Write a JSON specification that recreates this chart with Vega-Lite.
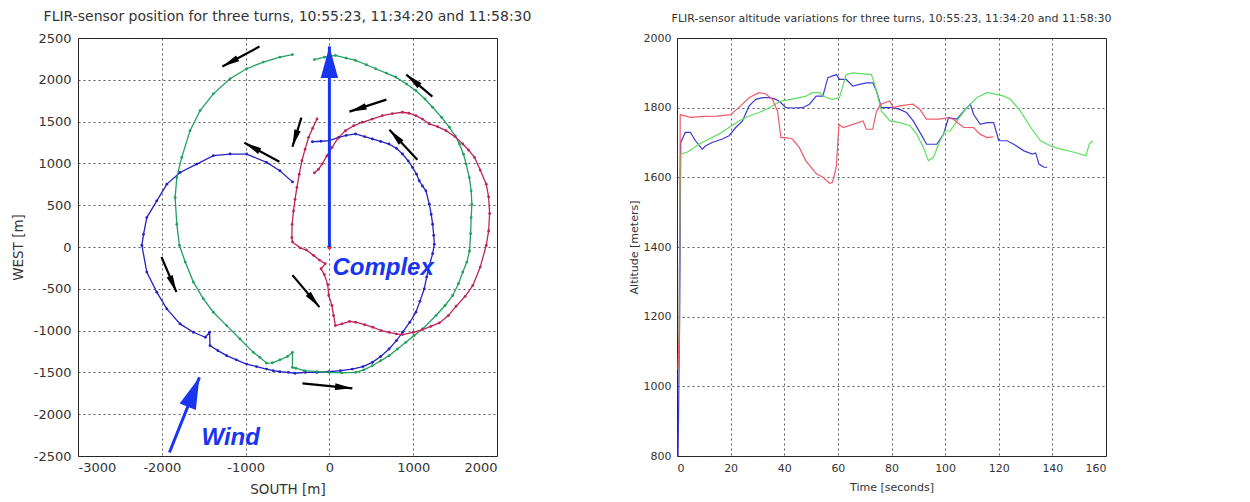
{
  "$schema": "https://vega.github.io/schema/vega-lite/v6.json",
  "background": "white",
  "padding": {"left": 10, "top": 9, "right": 5, "bottom": 5},
  "bounds": "flush",
  "spacing": 180,
  "resolve": {"scale": {"color": "independent"}},
  "config": {
    "view": {"stroke": "#222", "strokeWidth": 1},
    "font": "DejaVu Sans",
    "axis": {"grid": true, "gridColor": "#333", "gridDash": [2, 3], "gridWidth": 1, "gridOpacity": 0.8, "ticks": false, "domain": false, "labelColor": "#333", "titleColor": "#333", "titleFontWeight": "normal", "labelFont": "DejaVu Sans", "titleFont": "DejaVu Sans"}
  },
  "datasets": {
    "track": [
      {"turn": "10:55:23", "i": 1, "south": -203, "west": 1259},
      {"turn": "10:55:23", "i": 2, "south": -100, "west": 1265},
      {"turn": "10:55:23", "i": 3, "south": 0, "west": 1272},
      {"turn": "10:55:23", "i": 4, "south": 112, "west": 1312},
      {"turn": "10:55:23", "i": 5, "south": 200, "west": 1335},
      {"turn": "10:55:23", "i": 6, "south": 312, "west": 1352},
      {"turn": "10:55:23", "i": 7, "south": 420, "west": 1320},
      {"turn": "10:55:23", "i": 8, "south": 512, "west": 1292},
      {"turn": "10:55:23", "i": 9, "south": 612, "west": 1262},
      {"turn": "10:55:23", "i": 10, "south": 712, "west": 1232},
      {"turn": "10:55:23", "i": 11, "south": 800, "west": 1180},
      {"turn": "10:55:23", "i": 12, "south": 872, "west": 1112},
      {"turn": "10:55:23", "i": 13, "south": 940, "west": 1030},
      {"turn": "10:55:23", "i": 14, "south": 992, "west": 952},
      {"turn": "10:55:23", "i": 15, "south": 1040, "west": 870},
      {"turn": "10:55:23", "i": 16, "south": 1072, "west": 792},
      {"turn": "10:55:23", "i": 17, "south": 1110, "west": 730},
      {"turn": "10:55:23", "i": 18, "south": 1152, "west": 672},
      {"turn": "10:55:23", "i": 19, "south": 1192, "west": 512},
      {"turn": "10:55:23", "i": 20, "south": 1215, "west": 390},
      {"turn": "10:55:23", "i": 21, "south": 1232, "west": 272},
      {"turn": "10:55:23", "i": 22, "south": 1245, "west": 140},
      {"turn": "10:55:23", "i": 23, "south": 1252, "west": 32},
      {"turn": "10:55:23", "i": 24, "south": 1232, "west": -80},
      {"turn": "10:55:23", "i": 25, "south": 1192, "west": -220},
      {"turn": "10:55:23", "i": 26, "south": 1160, "west": -360},
      {"turn": "10:55:23", "i": 27, "south": 1132, "west": -500},
      {"turn": "10:55:23", "i": 28, "south": 1080, "west": -650},
      {"turn": "10:55:23", "i": 29, "south": 1032, "west": -780},
      {"turn": "10:55:23", "i": 30, "south": 960, "west": -900},
      {"turn": "10:55:23", "i": 31, "south": 872, "west": -1020},
      {"turn": "10:55:23", "i": 32, "south": 800, "west": -1120},
      {"turn": "10:55:23", "i": 33, "south": 712, "west": -1220},
      {"turn": "10:55:23", "i": 34, "south": 612, "west": -1310},
      {"turn": "10:55:23", "i": 35, "south": 512, "west": -1380},
      {"turn": "10:55:23", "i": 36, "south": 400, "west": -1430},
      {"turn": "10:55:23", "i": 37, "south": 272, "west": -1460},
      {"turn": "10:55:23", "i": 38, "south": 130, "west": -1480},
      {"turn": "10:55:23", "i": 39, "south": -8, "west": -1492},
      {"turn": "10:55:23", "i": 40, "south": -150, "west": -1500},
      {"turn": "10:55:23", "i": 41, "south": -288, "west": -1500},
      {"turn": "10:55:23", "i": 42, "south": -412, "west": -1510},
      {"turn": "10:55:23", "i": 43, "south": -488, "west": -1500},
      {"turn": "10:55:23", "i": 44, "south": -591, "west": -1492},
      {"turn": "10:55:23", "i": 45, "south": -670, "west": -1480},
      {"turn": "10:55:23", "i": 46, "south": -749, "west": -1460},
      {"turn": "10:55:23", "i": 47, "south": -870, "west": -1430},
      {"turn": "10:55:23", "i": 48, "south": -988, "west": -1400},
      {"turn": "10:55:23", "i": 49, "south": -1110, "west": -1350},
      {"turn": "10:55:23", "i": 50, "south": -1226, "west": -1300},
      {"turn": "10:55:23", "i": 51, "south": -1330, "west": -1240},
      {"turn": "10:55:23", "i": 52, "south": -1425, "west": -1180},
      {"turn": "10:55:23", "i": 53, "south": -1430, "west": -1020},
      {"turn": "10:55:23", "i": 54, "south": -1480, "west": -1080},
      {"turn": "10:55:23", "i": 55, "south": -1623, "west": -1020},
      {"turn": "10:55:23", "i": 56, "south": -1782, "west": -920},
      {"turn": "10:55:23", "i": 57, "south": -1940, "west": -740},
      {"turn": "10:55:23", "i": 58, "south": -2060, "west": -540},
      {"turn": "10:55:23", "i": 59, "south": -2179, "west": -300},
      {"turn": "10:55:23", "i": 60, "south": -2238, "west": 20},
      {"turn": "10:55:23", "i": 61, "south": -2218, "west": 152},
      {"turn": "10:55:23", "i": 62, "south": -2179, "west": 352},
      {"turn": "10:55:23", "i": 63, "south": -2060, "west": 552},
      {"turn": "10:55:23", "i": 64, "south": -1940, "west": 752},
      {"turn": "10:55:23", "i": 65, "south": -1782, "west": 892},
      {"turn": "10:55:23", "i": 66, "south": -1583, "west": 992},
      {"turn": "10:55:23", "i": 67, "south": -1385, "west": 1092},
      {"turn": "10:55:23", "i": 68, "south": -1186, "west": 1112},
      {"turn": "10:55:23", "i": 69, "south": -988, "west": 1112},
      {"turn": "10:55:23", "i": 70, "south": -749, "west": 1012},
      {"turn": "10:55:23", "i": 71, "south": -591, "west": 912},
      {"turn": "10:55:23", "i": 72, "south": -441, "west": 779},

      {"turn": "11:34:20", "i": 1, "south": -179, "west": 2242},
      {"turn": "11:34:20", "i": 2, "south": -60, "west": 2270},
      {"turn": "11:34:20", "i": 3, "south": 72, "west": 2292},
      {"turn": "11:34:20", "i": 4, "south": 200, "west": 2260},
      {"turn": "11:34:20", "i": 5, "south": 312, "west": 2232},
      {"turn": "11:34:20", "i": 6, "south": 440, "west": 2180},
      {"turn": "11:34:20", "i": 7, "south": 552, "west": 2132},
      {"turn": "11:34:20", "i": 8, "south": 680, "west": 2080},
      {"turn": "11:34:20", "i": 9, "south": 792, "west": 2032},
      {"turn": "11:34:20", "i": 10, "south": 920, "west": 1950},
      {"turn": "11:34:20", "i": 11, "south": 1032, "west": 1872},
      {"turn": "11:34:20", "i": 12, "south": 1140, "west": 1770},
      {"turn": "11:34:20", "i": 13, "south": 1232, "west": 1672},
      {"turn": "11:34:20", "i": 14, "south": 1340, "west": 1550},
      {"turn": "11:34:20", "i": 15, "south": 1432, "west": 1432},
      {"turn": "11:34:20", "i": 16, "south": 1500, "west": 1330},
      {"turn": "11:34:20", "i": 17, "south": 1552, "west": 1232},
      {"turn": "11:34:20", "i": 18, "south": 1600, "west": 1110},
      {"turn": "11:34:20", "i": 19, "south": 1632, "west": 992},
      {"turn": "11:34:20", "i": 20, "south": 1670, "west": 830},
      {"turn": "11:34:20", "i": 21, "south": 1692, "west": 672},
      {"turn": "11:34:20", "i": 22, "south": 1700, "west": 510},
      {"turn": "11:34:20", "i": 23, "south": 1692, "west": 352},
      {"turn": "11:34:20", "i": 24, "south": 1685, "west": 160},
      {"turn": "11:34:20", "i": 25, "south": 1672, "west": -48},
      {"turn": "11:34:20", "i": 26, "south": 1640, "west": -180},
      {"turn": "11:34:20", "i": 27, "south": 1592, "west": -300},
      {"turn": "11:34:20", "i": 28, "south": 1540, "west": -440},
      {"turn": "11:34:20", "i": 29, "south": 1472, "west": -580},
      {"turn": "11:34:20", "i": 30, "south": 1380, "west": -700},
      {"turn": "11:34:20", "i": 31, "south": 1272, "west": -820},
      {"turn": "11:34:20", "i": 32, "south": 1112, "west": -980},
      {"turn": "11:34:20", "i": 33, "south": 1010, "west": -1060},
      {"turn": "11:34:20", "i": 34, "south": 912, "west": -1140},
      {"turn": "11:34:20", "i": 35, "south": 812, "west": -1220},
      {"turn": "11:34:20", "i": 36, "south": 712, "west": -1300},
      {"turn": "11:34:20", "i": 37, "south": 612, "west": -1360},
      {"turn": "11:34:20", "i": 38, "south": 512, "west": -1420},
      {"turn": "11:34:20", "i": 39, "south": 410, "west": -1470},
      {"turn": "11:34:20", "i": 40, "south": 312, "west": -1500},
      {"turn": "11:34:20", "i": 41, "south": 150, "west": -1505},
      {"turn": "11:34:20", "i": 42, "south": 0, "west": -1500},
      {"turn": "11:34:20", "i": 43, "south": -150, "west": -1490},
      {"turn": "11:34:20", "i": 44, "south": -300, "west": -1480},
      {"turn": "11:34:20", "i": 45, "south": -400, "west": -1450},
      {"turn": "11:34:20", "i": 46, "south": -441, "west": -1440},
      {"turn": "11:34:20", "i": 47, "south": -441, "west": -1260},
      {"turn": "11:34:20", "i": 48, "south": -500, "west": -1310},
      {"turn": "11:34:20", "i": 49, "south": -591, "west": -1350},
      {"turn": "11:34:20", "i": 50, "south": -680, "west": -1385},
      {"turn": "11:34:20", "i": 51, "south": -749, "west": -1390},
      {"turn": "11:34:20", "i": 52, "south": -830, "west": -1320},
      {"turn": "11:34:20", "i": 53, "south": -908, "west": -1260},
      {"turn": "11:34:20", "i": 54, "south": -1067, "west": -1100},
      {"turn": "11:34:20", "i": 55, "south": -1226, "west": -940},
      {"turn": "11:34:20", "i": 56, "south": -1385, "west": -780},
      {"turn": "11:34:20", "i": 57, "south": -1504, "west": -620},
      {"turn": "11:34:20", "i": 58, "south": -1623, "west": -420},
      {"turn": "11:34:20", "i": 59, "south": -1720, "west": -180},
      {"turn": "11:34:20", "i": 60, "south": -1790, "west": 20},
      {"turn": "11:34:20", "i": 61, "south": -1821, "west": 272},
      {"turn": "11:34:20", "i": 62, "south": -1841, "west": 592},
      {"turn": "11:34:20", "i": 63, "south": -1821, "west": 832},
      {"turn": "11:34:20", "i": 64, "south": -1762, "west": 1072},
      {"turn": "11:34:20", "i": 65, "south": -1663, "west": 1392},
      {"turn": "11:34:20", "i": 66, "south": -1543, "west": 1632},
      {"turn": "11:34:20", "i": 67, "south": -1385, "west": 1832},
      {"turn": "11:34:20", "i": 68, "south": -1186, "west": 2012},
      {"turn": "11:34:20", "i": 69, "south": -988, "west": 2132},
      {"turn": "11:34:20", "i": 70, "south": -789, "west": 2212},
      {"turn": "11:34:20", "i": 71, "south": -591, "west": 2272},
      {"turn": "11:34:20", "i": 72, "south": -441, "west": 2302},

      {"turn": "11:58:30", "i": 1, "south": -148, "west": 1532},
      {"turn": "11:58:30", "i": 2, "south": -200, "west": 1420},
      {"turn": "11:58:30", "i": 3, "south": -248, "west": 1312},
      {"turn": "11:58:30", "i": 4, "south": -290, "west": 1170},
      {"turn": "11:58:30", "i": 5, "south": -328, "west": 1032},
      {"turn": "11:58:30", "i": 6, "south": -360, "west": 870},
      {"turn": "11:58:30", "i": 7, "south": -388, "west": 712},
      {"turn": "11:58:30", "i": 8, "south": -410, "west": 570},
      {"turn": "11:58:30", "i": 9, "south": -428, "west": 432},
      {"turn": "11:58:30", "i": 10, "south": -445, "west": 270},
      {"turn": "11:58:30", "i": 11, "south": -448, "west": 112},
      {"turn": "11:58:30", "i": 12, "south": -440, "west": 60},
      {"turn": "11:58:30", "i": 13, "south": -350, "west": -10},
      {"turn": "11:58:30", "i": 14, "south": -274, "west": -36},
      {"turn": "11:58:30", "i": 15, "south": -190, "west": -100},
      {"turn": "11:58:30", "i": 16, "south": -119, "west": -156},
      {"turn": "11:58:30", "i": 17, "south": -50, "west": -200},
      {"turn": "11:58:30", "i": 18, "south": -100, "west": -260},
      {"turn": "11:58:30", "i": 19, "south": -60, "west": -330},
      {"turn": "11:58:30", "i": 20, "south": -20, "west": -450},
      {"turn": "11:58:30", "i": 21, "south": -8, "west": -580},
      {"turn": "11:58:30", "i": 22, "south": 30, "west": -700},
      {"turn": "11:58:30", "i": 23, "south": 50, "west": -820},
      {"turn": "11:58:30", "i": 24, "south": 72, "west": -940},
      {"turn": "11:58:30", "i": 25, "south": 150, "west": -920},
      {"turn": "11:58:30", "i": 26, "south": 240, "west": -890},
      {"turn": "11:58:30", "i": 27, "south": 312, "west": -900},
      {"turn": "11:58:30", "i": 28, "south": 420, "west": -930},
      {"turn": "11:58:30", "i": 29, "south": 520, "west": -960},
      {"turn": "11:58:30", "i": 30, "south": 620, "west": -1000},
      {"turn": "11:58:30", "i": 31, "south": 712, "west": -1020},
      {"turn": "11:58:30", "i": 32, "south": 800, "west": -1040},
      {"turn": "11:58:30", "i": 33, "south": 872, "west": -1048},
      {"turn": "11:58:30", "i": 34, "south": 1000, "west": -1020},
      {"turn": "11:58:30", "i": 35, "south": 1112, "west": -988},
      {"turn": "11:58:30", "i": 36, "south": 1210, "west": -950},
      {"turn": "11:58:30", "i": 37, "south": 1312, "west": -908},
      {"turn": "11:58:30", "i": 38, "south": 1420, "west": -820},
      {"turn": "11:58:30", "i": 39, "south": 1512, "west": -708},
      {"turn": "11:58:30", "i": 40, "south": 1620, "west": -590},
      {"turn": "11:58:30", "i": 41, "south": 1712, "west": -460},
      {"turn": "11:58:30", "i": 42, "south": 1800, "west": -240},
      {"turn": "11:58:30", "i": 43, "south": 1872, "west": 20},
      {"turn": "11:58:30", "i": 44, "south": 1900, "west": 192},
      {"turn": "11:58:30", "i": 45, "south": 1912, "west": 400},
      {"turn": "11:58:30", "i": 46, "south": 1900, "west": 600},
      {"turn": "11:58:30", "i": 47, "south": 1872, "west": 752},
      {"turn": "11:58:30", "i": 48, "south": 1800, "west": 920},
      {"turn": "11:58:30", "i": 49, "south": 1732, "west": 1072},
      {"turn": "11:58:30", "i": 50, "south": 1660, "west": 1160},
      {"turn": "11:58:30", "i": 51, "south": 1592, "west": 1232},
      {"turn": "11:58:30", "i": 52, "south": 1500, "west": 1320},
      {"turn": "11:58:30", "i": 53, "south": 1392, "west": 1392},
      {"turn": "11:58:30", "i": 54, "south": 1290, "west": 1440},
      {"turn": "11:58:30", "i": 55, "south": 1192, "west": 1472},
      {"turn": "11:58:30", "i": 56, "south": 1110, "west": 1530},
      {"turn": "11:58:30", "i": 57, "south": 1032, "west": 1572},
      {"turn": "11:58:30", "i": 58, "south": 950, "west": 1600},
      {"turn": "11:58:30", "i": 59, "south": 872, "west": 1612},
      {"turn": "11:58:30", "i": 60, "south": 750, "west": 1595},
      {"turn": "11:58:30", "i": 61, "south": 632, "west": 1572},
      {"turn": "11:58:30", "i": 62, "south": 510, "west": 1530},
      {"turn": "11:58:30", "i": 63, "south": 392, "west": 1492},
      {"turn": "11:58:30", "i": 64, "south": 290, "west": 1450},
      {"turn": "11:58:30", "i": 65, "south": 192, "west": 1392},
      {"turn": "11:58:30", "i": 66, "south": 100, "west": 1300},
      {"turn": "11:58:30", "i": 67, "south": 32, "west": 1192},
      {"turn": "11:58:30", "i": 68, "south": -30, "west": 1090},
      {"turn": "11:58:30", "i": 69, "south": -88, "west": 992},
      {"turn": "11:58:30", "i": 70, "south": -130, "west": 930},
      {"turn": "11:58:30", "i": 71, "south": -179, "west": 887}
    ],
    "arrows": [
      {"s0": -835, "w0": 2398, "s1": -1277, "w1": 2158},
      {"s0": 1229, "w0": 1799, "s1": 918, "w1": 2062},
      {"s0": 680, "w0": 1763, "s1": 239, "w1": 1619},
      {"s0": -334, "w0": 1547, "s1": -441, "w1": 1199},
      {"s0": -597, "w0": 1019, "s1": -1014, "w1": 1247},
      {"s0": 1050, "w0": 1043, "s1": 716, "w1": 1403},
      {"s0": -2004, "w0": -120, "s1": -1825, "w1": -540},
      {"s0": -441, "w0": -336, "s1": -119, "w1": -719},
      {"s0": -322, "w0": -1631, "s1": 274, "w1": -1691}
    ],
    "bigarrows": [
      {"s0": 0, "w0": 0, "s1": 0, "w1": 2400},
      {"s0": -1909, "w0": -2458, "s1": -1551, "w1": -1559}
    ],
    "labels": [
      {"s": 36, "w": -336, "label": "Complex"},
      {"s": -1527, "w": -2374, "label": "Wind"}
    ],
    "origin": [{"s": 0, "w": 0}],
    "alt": [
      {"turn": "10:55:23", "t": 0.4, "alt": 800},
      {"turn": "10:55:23", "t": 1.0, "alt": 1200},
      {"turn": "10:55:23", "t": 1.4, "alt": 1700},
      {"turn": "10:55:23", "t": 3.1, "alt": 1729},
      {"turn": "10:55:23", "t": 5, "alt": 1729},
      {"turn": "10:55:23", "t": 6.9, "alt": 1705},
      {"turn": "10:55:23", "t": 9.4, "alt": 1681},
      {"turn": "10:55:23", "t": 10.6, "alt": 1690},
      {"turn": "10:55:23", "t": 13.1, "alt": 1700},
      {"turn": "10:55:23", "t": 16.9, "alt": 1710},
      {"turn": "10:55:23", "t": 19.4, "alt": 1719},
      {"turn": "10:55:23", "t": 21.9, "alt": 1743},
      {"turn": "10:55:23", "t": 24.4, "alt": 1762},
      {"turn": "10:55:23", "t": 26.9, "alt": 1805},
      {"turn": "10:55:23", "t": 29.4, "alt": 1824},
      {"turn": "10:55:23", "t": 31.9, "alt": 1829},
      {"turn": "10:55:23", "t": 34.4, "alt": 1829},
      {"turn": "10:55:23", "t": 36.9, "alt": 1824},
      {"turn": "10:55:23", "t": 38.75, "alt": 1814},
      {"turn": "10:55:23", "t": 40.6, "alt": 1800},
      {"turn": "10:55:23", "t": 43.1, "alt": 1799},
      {"turn": "10:55:23", "t": 46.9, "alt": 1800},
      {"turn": "10:55:23", "t": 49.4, "alt": 1810},
      {"turn": "10:55:23", "t": 51.9, "alt": 1833},
      {"turn": "10:55:23", "t": 54.4, "alt": 1833},
      {"turn": "10:55:23", "t": 56.25, "alt": 1886},
      {"turn": "10:55:23", "t": 59.4, "alt": 1895},
      {"turn": "10:55:23", "t": 60.6, "alt": 1881},
      {"turn": "10:55:23", "t": 63.1, "alt": 1881},
      {"turn": "10:55:23", "t": 65.6, "alt": 1862},
      {"turn": "10:55:23", "t": 68.1, "alt": 1867},
      {"turn": "10:55:23", "t": 70.6, "alt": 1871},
      {"turn": "10:55:23", "t": 73.1, "alt": 1871},
      {"turn": "10:55:23", "t": 74.4, "alt": 1848},
      {"turn": "10:55:23", "t": 76.25, "alt": 1800},
      {"turn": "10:55:23", "t": 80.6, "alt": 1800},
      {"turn": "10:55:23", "t": 83.1, "alt": 1795},
      {"turn": "10:55:23", "t": 85.6, "alt": 1786},
      {"turn": "10:55:23", "t": 88.1, "alt": 1762},
      {"turn": "10:55:23", "t": 90.6, "alt": 1729},
      {"turn": "10:55:23", "t": 93.1, "alt": 1695},
      {"turn": "10:55:23", "t": 96.9, "alt": 1695},
      {"turn": "10:55:23", "t": 99.4, "alt": 1724},
      {"turn": "10:55:23", "t": 101.25, "alt": 1771},
      {"turn": "10:55:23", "t": 104.4, "alt": 1767},
      {"turn": "10:55:23", "t": 106.9, "alt": 1790},
      {"turn": "10:55:23", "t": 109.4, "alt": 1810},
      {"turn": "10:55:23", "t": 110.6, "alt": 1781},
      {"turn": "10:55:23", "t": 113.1, "alt": 1752},
      {"turn": "10:55:23", "t": 115.6, "alt": 1757},
      {"turn": "10:55:23", "t": 118.1, "alt": 1757},
      {"turn": "10:55:23", "t": 120, "alt": 1705},
      {"turn": "10:55:23", "t": 123.1, "alt": 1705},
      {"turn": "10:55:23", "t": 125.6, "alt": 1695},
      {"turn": "10:55:23", "t": 129.4, "alt": 1676},
      {"turn": "10:55:23", "t": 132.5, "alt": 1667},
      {"turn": "10:55:23", "t": 133.75, "alt": 1670},
      {"turn": "10:55:23", "t": 135, "alt": 1638},
      {"turn": "10:55:23", "t": 136.9, "alt": 1629},
      {"turn": "10:55:23", "t": 138.1, "alt": 1629},

      {"turn": "11:34:20", "t": 0.6, "alt": 1050},
      {"turn": "11:34:20", "t": 1.3, "alt": 1667},
      {"turn": "11:34:20", "t": 3.75, "alt": 1672},
      {"turn": "11:34:20", "t": 5.6, "alt": 1681},
      {"turn": "11:34:20", "t": 8.1, "alt": 1695},
      {"turn": "11:34:20", "t": 11.9, "alt": 1710},
      {"turn": "11:34:20", "t": 15.6, "alt": 1724},
      {"turn": "11:34:20", "t": 19.4, "alt": 1743},
      {"turn": "11:34:20", "t": 23.1, "alt": 1762},
      {"turn": "11:34:20", "t": 26.9, "alt": 1776},
      {"turn": "11:34:20", "t": 30.6, "alt": 1786},
      {"turn": "11:34:20", "t": 33.1, "alt": 1795},
      {"turn": "11:34:20", "t": 35.6, "alt": 1805},
      {"turn": "11:34:20", "t": 38.75, "alt": 1819},
      {"turn": "11:34:20", "t": 42.5, "alt": 1824},
      {"turn": "11:34:20", "t": 45.6, "alt": 1829},
      {"turn": "11:34:20", "t": 48.1, "alt": 1833},
      {"turn": "11:34:20", "t": 50.6, "alt": 1843},
      {"turn": "11:34:20", "t": 53.1, "alt": 1843},
      {"turn": "11:34:20", "t": 55.6, "alt": 1829},
      {"turn": "11:34:20", "t": 58.1, "alt": 1824},
      {"turn": "11:34:20", "t": 60.6, "alt": 1829},
      {"turn": "11:34:20", "t": 63.1, "alt": 1895},
      {"turn": "11:34:20", "t": 65.6, "alt": 1900},
      {"turn": "11:34:20", "t": 69.4, "alt": 1897},
      {"turn": "11:34:20", "t": 72.5, "alt": 1895},
      {"turn": "11:34:20", "t": 73.75, "alt": 1867},
      {"turn": "11:34:20", "t": 76.25, "alt": 1790},
      {"turn": "11:34:20", "t": 79.4, "alt": 1762},
      {"turn": "11:34:20", "t": 83.1, "alt": 1757},
      {"turn": "11:34:20", "t": 86.9, "alt": 1748},
      {"turn": "11:34:20", "t": 89.4, "alt": 1724},
      {"turn": "11:34:20", "t": 91.9, "alt": 1686},
      {"turn": "11:34:20", "t": 93.75, "alt": 1648},
      {"turn": "11:34:20", "t": 95.6, "alt": 1657},
      {"turn": "11:34:20", "t": 98.1, "alt": 1705},
      {"turn": "11:34:20", "t": 100, "alt": 1733},
      {"turn": "11:34:20", "t": 101.9, "alt": 1733},
      {"turn": "11:34:20", "t": 104.4, "alt": 1762},
      {"turn": "11:34:20", "t": 108.1, "alt": 1800},
      {"turn": "11:34:20", "t": 111.9, "alt": 1829},
      {"turn": "11:34:20", "t": 115.6, "alt": 1843},
      {"turn": "11:34:20", "t": 119.4, "alt": 1838},
      {"turn": "11:34:20", "t": 121.9, "alt": 1833},
      {"turn": "11:34:20", "t": 124.4, "alt": 1824},
      {"turn": "11:34:20", "t": 128.1, "alt": 1790},
      {"turn": "11:34:20", "t": 131.9, "alt": 1743},
      {"turn": "11:34:20", "t": 135.6, "alt": 1705},
      {"turn": "11:34:20", "t": 139.4, "alt": 1690},
      {"turn": "11:34:20", "t": 143.1, "alt": 1681},
      {"turn": "11:34:20", "t": 148.1, "alt": 1672},
      {"turn": "11:34:20", "t": 152.5, "alt": 1662},
      {"turn": "11:34:20", "t": 153.75, "alt": 1695},
      {"turn": "11:34:20", "t": 155, "alt": 1705},

      {"turn": "11:58:30", "t": 0.4, "alt": 1050},
      {"turn": "11:58:30", "t": 0.8, "alt": 1150},
      {"turn": "11:58:30", "t": 1.2, "alt": 1780},
      {"turn": "11:58:30", "t": 5, "alt": 1772},
      {"turn": "11:58:30", "t": 10, "alt": 1775},
      {"turn": "11:58:30", "t": 15, "alt": 1776},
      {"turn": "11:58:30", "t": 20, "alt": 1780},
      {"turn": "11:58:30", "t": 23, "alt": 1800},
      {"turn": "11:58:30", "t": 27, "alt": 1829},
      {"turn": "11:58:30", "t": 30.6, "alt": 1843},
      {"turn": "11:58:30", "t": 33, "alt": 1840},
      {"turn": "11:58:30", "t": 35.6, "alt": 1824},
      {"turn": "11:58:30", "t": 37.5, "alt": 1790},
      {"turn": "11:58:30", "t": 38.75, "alt": 1714},
      {"turn": "11:58:30", "t": 40.6, "alt": 1714},
      {"turn": "11:58:30", "t": 43, "alt": 1710},
      {"turn": "11:58:30", "t": 45.6, "alt": 1686},
      {"turn": "11:58:30", "t": 48, "alt": 1648},
      {"turn": "11:58:30", "t": 52, "alt": 1610},
      {"turn": "11:58:30", "t": 54.4, "alt": 1600},
      {"turn": "11:58:30", "t": 56.9, "alt": 1583},
      {"turn": "11:58:30", "t": 58, "alt": 1586},
      {"turn": "11:58:30", "t": 59.4, "alt": 1629},
      {"turn": "11:58:30", "t": 60.4, "alt": 1752},
      {"turn": "11:58:30", "t": 62, "alt": 1743},
      {"turn": "11:58:30", "t": 65.6, "alt": 1752},
      {"turn": "11:58:30", "t": 69.4, "alt": 1762},
      {"turn": "11:58:30", "t": 70.6, "alt": 1738},
      {"turn": "11:58:30", "t": 73, "alt": 1738},
      {"turn": "11:58:30", "t": 74.4, "alt": 1790},
      {"turn": "11:58:30", "t": 76, "alt": 1810},
      {"turn": "11:58:30", "t": 79.4, "alt": 1819},
      {"turn": "11:58:30", "t": 80.6, "alt": 1800},
      {"turn": "11:58:30", "t": 83, "alt": 1805},
      {"turn": "11:58:30", "t": 88, "alt": 1810},
      {"turn": "11:58:30", "t": 90.6, "alt": 1795},
      {"turn": "11:58:30", "t": 93, "alt": 1767},
      {"turn": "11:58:30", "t": 98, "alt": 1767},
      {"turn": "11:58:30", "t": 100.6, "alt": 1771},
      {"turn": "11:58:30", "t": 103, "alt": 1767},
      {"turn": "11:58:30", "t": 106.9, "alt": 1743},
      {"turn": "11:58:30", "t": 110.6, "alt": 1743},
      {"turn": "11:58:30", "t": 113, "alt": 1724},
      {"turn": "11:58:30", "t": 115.6, "alt": 1714},
      {"turn": "11:58:30", "t": 118, "alt": 1716}
    ]
  },
  "hconcat": [
    {
      "width": 419,
      "height": 418,
      "title": {"text": "FLIR-sensor position for three turns, 10:55:23, 11:34:20 and 11:58:30", "fontSize": 14, "fontWeight": "normal", "font": "DejaVu Sans", "color": "#333", "offset": 8},
      "layer": [
        {
          "data": {"name": "track"},
          "mark": {"type": "line", "strokeWidth": 1.3, "point": {"filled": true, "size": 8}},
          "encoding": {
            "x": {"field": "south", "type": "quantitative", "scale": {"domain": [-3000, 2000], "nice": false, "zero": false},
              "axis": {"title": "SOUTH [m]", "values": [-3000, -2000, -1000, 0, 1000, 2000], "labelExpr": "'' + datum.value", "labelFontSize": 13, "titleFontSize": 13.5, "labelPadding": 5, "titlePadding": 8}},
            "y": {"field": "west", "type": "quantitative", "scale": {"domain": [-2500, 2500], "nice": false, "zero": false},
              "axis": {"title": "WEST [m]", "values": [-2500, -2000, -1500, -1000, -500, 0, 500, 1000, 1500, 2000, 2500], "labelExpr": "'' + datum.value", "labelFontSize": 13, "titleFontSize": 13.5, "labelPadding": 7, "titlePadding": 8}},
            "order": {"field": "i", "type": "quantitative"},
            "color": {"field": "turn", "type": "nominal", "scale": {"domain": ["10:55:23", "11:34:20", "11:58:30"], "range": ["#2323c8", "#22a060", "#c0245a"]}, "legend": null}
          }
        },
        {
          "data": {"name": "origin"},
          "mark": {"type": "point", "filled": true, "color": "#ee2222", "size": 20, "opacity": 1},
          "encoding": {"x": {"field": "s", "type": "quantitative"}, "y": {"field": "w", "type": "quantitative"}}
        },
        {
          "data": {"name": "arrows"},
          "mark": {"type": "rule", "color": "black", "strokeWidth": 2.2},
          "encoding": {"x": {"field": "s0", "type": "quantitative"}, "y": {"field": "w0", "type": "quantitative"}, "x2": {"field": "s1"}, "y2": {"field": "w1"}}
        },
        {
          "data": {"name": "arrows"},
          "transform": [{"calculate": "atan2(datum.s1 - datum.s0, datum.w1 - datum.w0) * 180 / PI", "as": "ang"}],
          "mark": {"type": "point", "shape": "M0,0L0.38,2L-0.38,2Z", "filled": true, "color": "black", "size": 300, "opacity": 1},
          "encoding": {"x": {"field": "s1", "type": "quantitative"}, "y": {"field": "w1", "type": "quantitative"}, "angle": {"field": "ang", "type": "quantitative", "scale": null}}
        },
        {
          "data": {"name": "bigarrows"},
          "mark": {"type": "rule", "color": "#1a35f0", "strokeWidth": 3},
          "encoding": {"x": {"field": "s0", "type": "quantitative"}, "y": {"field": "w0", "type": "quantitative"}, "x2": {"field": "s1"}, "y2": {"field": "w1"}}
        },
        {
          "data": {"name": "bigarrows"},
          "transform": [{"calculate": "atan2(datum.s1 - datum.s0, datum.w1 - datum.w0) * 180 / PI", "as": "ang"}],
          "mark": {"type": "point", "shape": "M0,0L0.55,2L-0.55,2Z", "filled": true, "color": "#1a35f0", "size": 1000, "opacity": 1},
          "encoding": {"x": {"field": "s1", "type": "quantitative"}, "y": {"field": "w1", "type": "quantitative"}, "angle": {"field": "ang", "type": "quantitative", "scale": null}}
        },
        {
          "data": {"name": "labels"},
          "mark": {"type": "text", "align": "left", "baseline": "alphabetic", "font": "Liberation Sans", "fontSize": 24, "fontWeight": "bold", "fontStyle": "italic", "color": "#1a35f0"},
          "encoding": {"x": {"field": "s", "type": "quantitative"}, "y": {"field": "w", "type": "quantitative"}, "text": {"field": "label"}}
        }
      ]
    },
    {
      "width": 429,
      "height": 418,
      "title": {"text": "FLIR-sensor altitude variations for three turns, 10:55:23, 11:34:20 and 11:58:30", "fontSize": 11, "fontWeight": "normal", "font": "DejaVu Sans", "color": "#333", "offset": 8},
      "data": {"name": "alt"},
      "mark": {"type": "line", "strokeWidth": 1.2},
      "encoding": {
        "x": {"field": "t", "type": "quantitative", "scale": {"domain": [0, 160], "nice": false},
          "axis": {"title": "Time [seconds]", "values": [0, 20, 40, 60, 80, 100, 120, 140, 160], "labelFontSize": 11, "titleFontSize": 11, "labelPadding": 6, "titlePadding": 8}},
        "y": {"field": "alt", "type": "quantitative", "scale": {"domain": [800, 2000], "nice": false, "zero": false},
          "axis": {"title": "Altitude [meters]", "values": [800, 1000, 1200, 1400, 1600, 1800, 2000], "labelExpr": "'' + datum.value", "labelFontSize": 11, "titleFontSize": 11, "labelPadding": 6, "titlePadding": 4}},
        "order": {"field": "t", "type": "quantitative"},
        "color": {"field": "turn", "type": "nominal", "scale": {"domain": ["10:55:23", "11:34:20", "11:58:30"], "range": ["#3b3bd6", "#5ee05e", "#f25a6a"]}, "legend": null}
      }
    }
  ]
}
